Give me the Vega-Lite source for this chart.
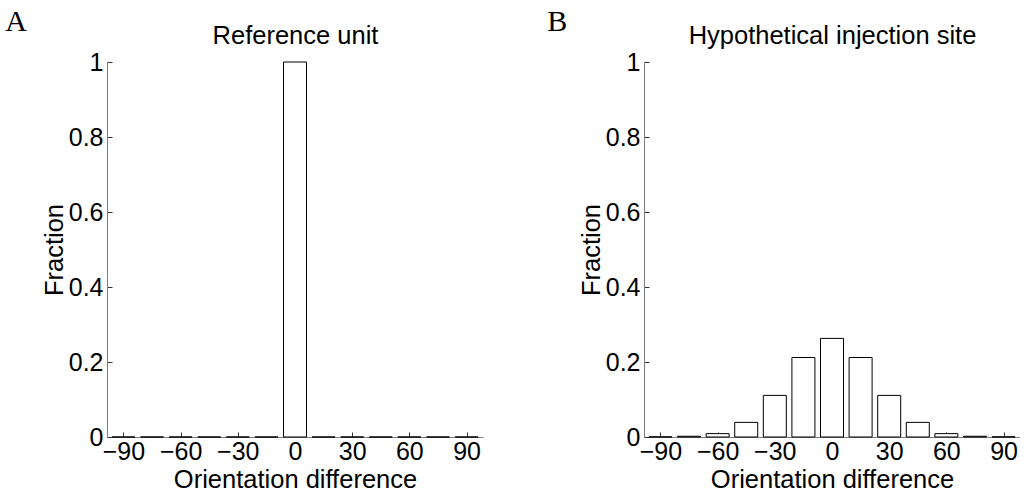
{
  "$schema": "https://vega.github.io/schema/vega-lite/v6.json",
  "background": "white",
  "padding": {"left": 5, "top": 7, "right": 0, "bottom": 0},
  "config": {
    "view": {"stroke": null},
    "font": "Liberation Sans",
    "axis": {
      "labelFont": "Liberation Sans",
      "labelFontSize": 25,
      "labelColor": "black",
      "titleFont": "Liberation Sans",
      "titleFontSize": 25.5,
      "titleFontWeight": "normal",
      "titleColor": "black",
      "domainColor": "#7f7f7f",
      "domainWidth": 1,
      "tickColor": "#333333",
      "tickSize": -5,
      "grid": false
    },
    "title": {"font": "Liberation Serif", "fontSize": 30, "fontWeight": "normal", "color": "black", "offset": -14}
  },
  "spacing": 64,
  "hconcat": [
    {
      "title": {"text": "A", "anchor": "start", "frame": "bounds", "dx": -37},
      "width": 376,
      "height": 375,
      "data": {"values": [
        {"orientation": -90, "fraction": 0},
        {"orientation": -75, "fraction": 0},
        {"orientation": -60, "fraction": 0},
        {"orientation": -45, "fraction": 0},
        {"orientation": -30, "fraction": 0},
        {"orientation": -15, "fraction": 0},
        {"orientation": 0, "fraction": 1},
        {"orientation": 15, "fraction": 0},
        {"orientation": 30, "fraction": 0},
        {"orientation": 45, "fraction": 0},
        {"orientation": 60, "fraction": 0},
        {"orientation": 75, "fraction": 0},
        {"orientation": 90, "fraction": 0}
      ]},
      "layer": [
        {
          "mark": {"type": "bar", "width": 23, "fill": "white", "stroke": "black", "strokeWidth": 1},
          "encoding": {
            "x": {"field": "orientation", "type": "quantitative", "scale": {"domain": [-96, 96], "nice": false, "zero": false},
              "axis": {"title": "Orientation difference", "values": [-90, -60, -30, 0, 30, 60, 90], "labelPadding": 7, "titlePadding": 3}},
            "y": {"field": "fraction", "type": "quantitative", "scale": {"domain": [0, 1], "nice": false},
              "axis": {"title": "Fraction", "values": [0, 0.2, 0.4, 0.6, 0.8, 1], "format": "~g", "labelPadding": 9, "titlePadding": 1}}
          }
        },
        {
          "mark": {"type": "tick", "opacity": 0},
          "encoding": {
            "x": {"field": "orientation", "type": "quantitative",
              "axis": {"orient": "top", "title": "Reference unit", "labels": false, "ticks": false, "domain": false, "titlePadding": 14}}
          }
        }
      ],
      "resolve": {"axis": {"x": "independent"}}
    },
    {
      "title": {"text": "B", "anchor": "start", "frame": "bounds", "dx": -32},
      "width": 376,
      "height": 375,
      "data": {"values": [
        {"orientation": -90, "fraction": 0.0005},
        {"orientation": -75, "fraction": 0.002},
        {"orientation": -60, "fraction": 0.009},
        {"orientation": -45, "fraction": 0.039},
        {"orientation": -30, "fraction": 0.111},
        {"orientation": -15, "fraction": 0.212},
        {"orientation": 0, "fraction": 0.263},
        {"orientation": 15, "fraction": 0.212},
        {"orientation": 30, "fraction": 0.111},
        {"orientation": 45, "fraction": 0.039},
        {"orientation": 60, "fraction": 0.009},
        {"orientation": 75, "fraction": 0.002},
        {"orientation": 90, "fraction": 0.0005}
      ]},
      "layer": [
        {
          "mark": {"type": "bar", "width": 23, "fill": "white", "stroke": "black", "strokeWidth": 1},
          "encoding": {
            "x": {"field": "orientation", "type": "quantitative", "scale": {"domain": [-96, 96], "nice": false, "zero": false},
              "axis": {"title": "Orientation difference", "values": [-90, -60, -30, 0, 30, 60, 90], "labelPadding": 7, "titlePadding": 3}},
            "y": {"field": "fraction", "type": "quantitative", "scale": {"domain": [0, 1], "nice": false},
              "axis": {"title": "Fraction", "values": [0, 0.2, 0.4, 0.6, 0.8, 1], "format": "~g", "labelPadding": 9, "titlePadding": 1}}
          }
        },
        {
          "mark": {"type": "tick", "opacity": 0},
          "encoding": {
            "x": {"field": "orientation", "type": "quantitative",
              "axis": {"orient": "top", "title": "Hypothetical injection site", "labels": false, "ticks": false, "domain": false, "titlePadding": 14}}
          }
        }
      ],
      "resolve": {"axis": {"x": "independent"}}
    }
  ]
}
